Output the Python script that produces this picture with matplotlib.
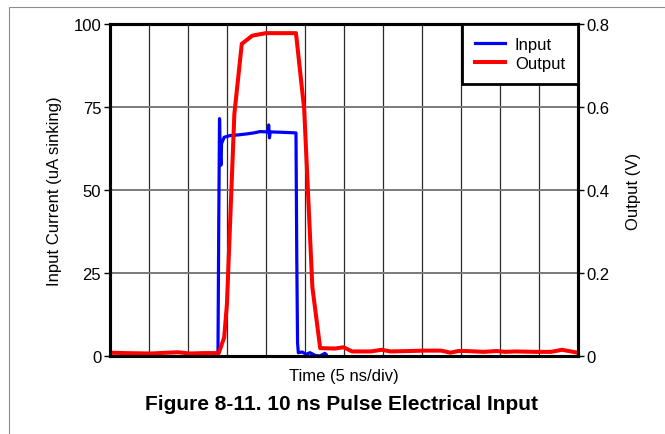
import matplotlib
matplotlib.use("Agg")
import matplotlib.pyplot as plt
from matplotlib.patches import Rectangle

plt.rcParams["font.family"] = ["Liberation Sans", "DejaVu Sans"]

# scope trace, time in ns (5 ns/div, 12 divisions)
in_t = [13.9, 14.0, 14.1, 14.2, 14.3, 14.36, 14.7, 15.45, 16.5, 17.6, 18.5, 19.3, 20.3, 20.4,
        20.5, 20.6, 21.9, 23.0, 23.9, 24.0, 24.1, 24.2, 24.7, 25.2, 25.7, 26.35, 26.9, 27.2, 27.6, 27.75]
in_ua = [0.0, 40.0, 71.5, 60.0, 57.5, 64.0, 65.9, 66.4, 66.6, 66.9, 67.2, 67.6, 67.5, 69.6,
         65.7, 67.5, 67.4, 67.3, 67.2, 30.0, 4.0, 1.0, 1.2, 0.5, 1.0, 0.2, 0.0, 0.3, 0.8, 0.5]

out_t = [0.0, 2.0, 5.2, 7.5, 8.8, 10.3, 12.0, 14.0, 14.7, 15.05, 16.0, 16.95, 18.3, 20.05, 23.9,
         24.95, 26.0, 27.0, 28.9, 30.0, 31.1, 33.5, 34.9, 36.0, 38.5, 40.3, 42.5, 43.7, 44.7,
         45.7, 48.0, 49.6, 50.7, 52.0, 54.5, 56.6, 58.0, 60.0]
out_v = [0.008, 0.007, 0.006, 0.008, 0.009, 0.006, 0.007, 0.007, 0.045, 0.125, 0.583, 0.752,
         0.772, 0.778, 0.778, 0.595, 0.166, 0.019, 0.018, 0.021, 0.011, 0.011, 0.015, 0.011,
         0.012, 0.013, 0.013, 0.008, 0.012, 0.012, 0.010, 0.012, 0.010, 0.011, 0.010, 0.010,
         0.015, 0.008]

fig = plt.figure(figsize=(6.65, 4.35), dpi=100)
fig.patches.append(Rectangle((9 / 665, -0.1), 1.2, 1 - 8 / 435 + 0.1, transform=fig.transFigure,
                             fill=False, ec="#8c8c8c", lw=0.8))

ax = fig.add_axes([0.1647, 0.1793, 0.7039, 0.7632])
ax2 = ax.twinx()

ax.set_xlim(0, 60)
ax.set_ylim(0, 100)
ax2.set_ylim(0, 0.8)
ax.set_xticks(range(0, 61, 5))
ax.set_xticklabels([])
ax.set_yticks([0, 25, 50, 75, 100])
ax2.set_yticks([0, 0.2, 0.4, 0.6, 0.8])
ax2.set_yticklabels(["0", "0.2", "0.4", "0.6", "0.8"])

ax.grid(True, axis="x", color="#2a2a2a", lw=0.9)
ax.grid(True, axis="y", color="#7a7a7a", lw=1.4)
ax.tick_params(axis="x", length=0)
ax.tick_params(axis="y", labelsize=12, length=4, width=1, pad=2)
ax2.tick_params(axis="y", labelsize=12, length=4, width=1, pad=2)

for a in (ax, ax2):
    for s in a.spines.values():
        s.set_linewidth(2.2)

l1, = ax.plot(in_t, in_ua, color="#0000ff", lw=2.3, label="Input", solid_joinstyle="round")
l2, = ax2.plot(out_t, out_v, color="#ff0000", lw=2.9, label="Output", solid_joinstyle="round")

ax.set_ylabel("Input Current (uA sinking)", fontsize=12, labelpad=8)
ax2.set_ylabel("Output (V)", fontsize=12, labelpad=12)
ax.set_xlabel("Time (5 ns/div)", fontsize=12, labelpad=5)

leg = ax2.legend(handles=[l1, l2], loc="upper right", fontsize=12, borderaxespad=0,
                 fancybox=False, framealpha=1, edgecolor="black", handlelength=1.8,
                 borderpad=0.75, labelspacing=0.28, handletextpad=0.6)
leg.get_frame().set_linewidth(2)

fig.text(0.514, 0.069, "Figure 8-11. 10 ns Pulse Electrical Input", ha="center", va="center",
         fontsize=15, fontweight="bold")

fig.savefig("out.png", dpi=100, facecolor="white")
